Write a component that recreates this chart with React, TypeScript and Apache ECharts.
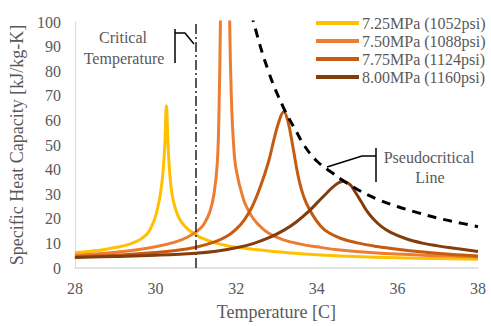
import React, { useEffect, useRef } from "react";
import * as echarts from "echarts";

const seriesNames = ["7.25MPa (1052psi)", "7.50MPa (1088psi)", "7.75MPa (1124psi)", "8.00MPa (1160psi)"];
const seriesColors = ["#FFC000", "#ED7D31", "#C55A11", "#843C0C"];

const p725: [number, number][] = [
  [28, 6.2], [28.5, 7], [28.8, 7.7], [29.0, 8.3], [29.3, 9.4], [29.5, 10.6], [29.65, 11.9], [29.8, 14],
  [29.9, 16.8], [30.0, 21], [30.06, 25], [30.12, 30], [30.18, 38], [30.23, 50], [30.27, 66], [30.31, 50],
  [30.36, 37], [30.41, 30], [30.47, 25.5], [30.55, 21.5], [30.65, 18.5], [30.8, 15.8], [31.0, 13.6], [31.14, 12.2],
  [31.47, 10.2], [31.8, 9], [32.2, 8], [32.6, 7.3], [33.0, 6.6], [33.6, 5.8], [34.58, 4.9], [35.5, 4.4],
  [36.5, 4.0], [38, 3.6],
];
const p750: [number, number][] = [
  [28, 5.2], [28.5, 5.7], [29, 6.4], [29.5, 7.3], [30.0, 8.6], [30.5, 10.6], [30.8, 12.6], [31.05, 15.2],
  [31.2, 17.8], [31.35, 23], [31.45, 30], [31.53, 42], [31.57, 60], [31.61, 100], [31.725, 260], [31.84, 100],
  [31.88, 70], [31.93, 52], [32.0, 40], [32.18, 28], [32.35, 22], [32.52, 18.2], [32.8, 14.2], [33.17, 11.4],
  [33.6, 9.7], [34.0, 8.6], [34.58, 7.3], [35.4, 6.2], [36.64, 5.2], [38, 4.5],
];
const p775: [number, number][] = [
  [28, 4.5], [29, 5.2], [30, 6.3], [30.5, 7.1], [31.0, 8.4], [31.5, 10.8], [31.8, 13.2], [32.0, 15.8],
  [32.2, 19.5], [32.4, 25], [32.6, 33], [32.8, 43], [32.95, 53], [33.08, 60.5], [33.18, 63.5], [33.28, 60],
  [33.4, 50], [33.55, 36.5], [33.7, 28], [33.9, 21.5], [34.1, 17], [34.3, 14.3], [34.6, 12], [35.0, 10.2],
  [35.5, 8.7], [36.0, 7.6], [36.64, 6.5], [37.3, 5.6], [38, 4.9],
];
const p800: [number, number][] = [
  [28, 4.3], [29, 4.7], [30, 5.2], [31, 6.0], [31.5, 6.8], [32, 8.2], [32.4, 9.8], [32.8, 12.2],
  [33.2, 15.5], [33.5, 18.8], [33.8, 23], [34.05, 27.2], [34.25, 30.5], [34.45, 33.6], [34.65, 35.3],
  [34.82, 34], [34.95, 31], [35.1, 27], [35.25, 23], [35.41, 19.8], [35.6, 16.9], [35.82, 14.6],
  [36.2, 12], [36.65, 10], [37.0, 9], [37.47, 7.9], [38, 6.7],
];
const pseudoLine: [number, number][] = [
  [32.3, 110], [32.44, 99.5], [32.8, 80], [33.18, 65], [33.51, 55], [33.68, 50], [34.0, 43.5], [34.4, 38.5],
  [34.66, 35.5], [35.0, 32], [35.5, 28], [36.0, 25], [36.5, 22.5], [37.0, 20.3], [37.5, 18.5], [38, 16.8],
];
const criticalTemp = 31;

const xMin = 28, xMax = 38, xStep = 2;
const yMin = 0, yMax = 100, yStep = 10;

const FONT = "Liberation Serif";
const GRAY = "#595959";

export default function App() {
  const ref = useRef<HTMLDivElement>(null);
  useEffect(() => {
    if (!ref.current) return;
    const chart = echarts.init(ref.current, null, { renderer: "svg" });
    const curves = [p725, p750, p775, p800];
    const series: any[] = curves.map((d, i) => ({
      name: seriesNames[i],
      type: "line",
      data: d,
      showSymbol: false,
      smooth: 0.4,
      lineStyle: { color: seriesColors[i], width: 3 },
      itemStyle: { color: seriesColors[i] },
      z: 2 + i,
    }));
    series.push({
      name: "Pseudocritical",
      type: "line",
      data: pseudoLine,
      showSymbol: false,
      smooth: 0.4,
      lineStyle: { color: "#000", width: 3, type: [9, 7] },
      z: 10,
      markLine: {
        silent: true,
        symbol: "none",
        label: { show: false },
        lineStyle: { color: "#222", width: 1.5, type: [10, 3, 2, 3] },
        data: [{ xAxis: criticalTemp }],
      },
    });
    chart.setOption({
      animation: false,
      grid: { left: 74, right: 13, top: 22, bottom: 58 },
      legend: {
        data: seriesNames,
        orient: "vertical",
        left: 311,
        top: 10,
        itemGap: 2,
        itemWidth: 43,
        itemHeight: 4,
        icon: "rect",
        textStyle: { fontFamily: FONT, fontSize: 16, color: GRAY, padding: [0, 0, 0, -2] },
      },
      xAxis: {
        type: "value",
        min: xMin,
        max: xMax,
        interval: xStep,
        name: "Temperature [C]",
        nameLocation: "middle",
        nameGap: 35,
        nameTextStyle: { fontFamily: FONT, fontSize: 18, color: GRAY },
        axisLine: { lineStyle: { color: "#D9D9D9", width: 1.5 } },
        axisTick: { show: false },
        splitLine: { show: false },
        axisLabel: { fontFamily: FONT, fontSize: 16, color: GRAY, margin: 12 },
      },
      yAxis: {
        type: "value",
        min: yMin,
        max: yMax,
        interval: yStep,
        name: "Specific Heat Capacity [kJ/kg-K]",
        nameLocation: "middle",
        nameGap: 45,
        nameTextStyle: { fontFamily: FONT, fontSize: 18, color: GRAY },
        axisLine: { show: true, lineStyle: { color: "#D9D9D9", width: 1 } },
        axisTick: { show: false },
        splitLine: { show: false },
        axisLabel: { fontFamily: FONT, fontSize: 16, color: GRAY, margin: 14 },
      },
      series,
      graphic: [
        {
          type: "text",
          x: 123,
          y: 37,
          style: { text: "Critical", font: `16px "${FONT}"`, fill: GRAY, align: "center", verticalAlign: "middle" },
        },
        {
          type: "text",
          x: 124,
          y: 58,
          style: { text: "Temperature", font: `16px "${FONT}"`, fill: GRAY, align: "center", verticalAlign: "middle" },
        },
        { type: "polyline", shape: { points: [[194, 44], [185, 33], [175, 33]] }, style: { stroke: "#000", lineWidth: 1.5, fill: null } },
        { type: "line", shape: { x1: 175, y1: 29, x2: 175, y2: 63 }, style: { stroke: "#000", lineWidth: 1.5 } },
        {
          type: "text",
          x: 429,
          y: 157,
          style: { text: "Pseudocritical", font: `16px "${FONT}"`, fill: GRAY, align: "center", verticalAlign: "middle" },
        },
        {
          type: "text",
          x: 430,
          y: 177,
          style: { text: "Line", font: `16px "${FONT}"`, fill: GRAY, align: "center", verticalAlign: "middle" },
        },
        { type: "polyline", shape: { points: [[327, 167], [362, 156], [376, 156]] }, style: { stroke: "#000", lineWidth: 1.5, fill: null } },
        { type: "line", shape: { x1: 376, y1: 148, x2: 376, y2: 182 }, style: { stroke: "#000", lineWidth: 1.5 } },
      ],
    });
    return () => chart.dispose();
  }, []);
  return <div ref={ref} style={{ width: 491, height: 326, position: "absolute", left: 0, top: 0 }} />;
}
